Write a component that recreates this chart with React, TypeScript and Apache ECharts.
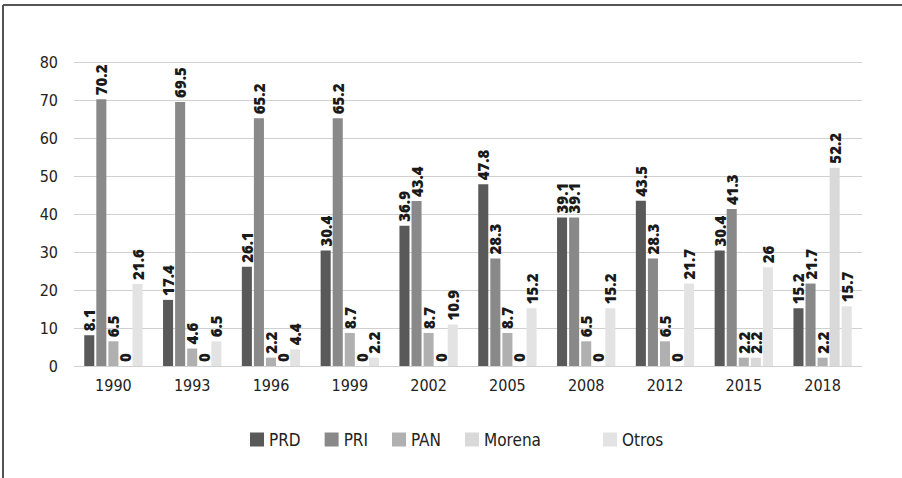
import React, { useEffect, useRef } from "react";
import * as echarts from "echarts";

const years = ["1990", "1993", "1996", "1999", "2002", "2005", "2008", "2012", "2015", "2018"];
const prd = [8.1, 17.4, 26.1, 30.4, 36.9, 47.8, 39.1, 43.5, 30.4, 15.2];
const pri = [70.2, 69.5, 65.2, 65.2, 43.4, 28.3, 39.1, 28.3, 41.3, 21.7];
const pan = [6.5, 4.6, 2.2, 8.7, 8.7, 8.7, 6.5, 6.5, 2.2, 2.2];
const morena = [0, 0, 0, 0, 0, 0, 0, 0, 2.2, 52.2];
const otros = [21.6, 6.5, 4.4, 2.2, 10.9, 15.2, 15.2, 21.7, 26, 15.7];
const seriesNames = ["PRD", "PRI", "PAN", "Morena", "Otros"];
const seriesData = [prd, pri, pan, morena, otros];
const seriesColors = ["#595959", "#898989", "#b0b0b0", "#d9d9d9", "#e3e3e3"];

const narrow = "'DejaVu Sans Condensed', 'Open Sans', sans-serif";

export default function App() {
  const ref = useRef<HTMLDivElement>(null);
  useEffect(() => {
    if (!ref.current) return;
    const chart = echarts.init(ref.current, undefined, { renderer: "svg" });
    chart.setOption({
      animation: false,
      backgroundColor: "#ffffff",
      grid: { left: 74, right: 40, top: 62, bottom: 112 },
      legend: [
        {
          data: seriesNames.slice(0, 4),
          left: 245,
          top: 426,
          itemWidth: 14,
          itemHeight: 14,
          itemGap: 24,
          icon: "rect",
          textStyle: { fontFamily: narrow, fontSize: 17, color: "#222" },
        },
        {
          data: ["Otros"],
          left: 598,
          top: 426,
          itemWidth: 14,
          itemHeight: 14,
          icon: "rect",
          textStyle: { fontFamily: narrow, fontSize: 17, color: "#222" },
        },
      ],
      xAxis: {
        type: "category",
        data: years,
        axisLine: { lineStyle: { color: "#d0d0d0", width: 1 } },
        axisTick: { show: false },
        axisLabel: { fontFamily: narrow, fontSize: 16, color: "#222", margin: 11 },
      },
      yAxis: {
        type: "value",
        min: 0,
        max: 80,
        interval: 10,
        axisLine: { show: false },
        axisTick: { show: false },
        splitLine: { lineStyle: { color: "#d0d0d0", width: 1 } },
        axisLabel: { fontFamily: narrow, fontSize: 16, color: "#222", margin: 16 },
      },
      series: seriesNames.map((name, i) => ({
        name,
        type: "bar",
        data: seriesData[i],
        barCategoryGap: "26%",
        barGap: "20%",
        itemStyle: { color: seriesColors[i] },
        label: {
          show: true,
          position: "top",
          rotate: 90,
          align: "left",
          verticalAlign: "middle",
          distance: 4,
          fontFamily: "'Open Sans', sans-serif",
          fontWeight: 800,
          fontSize: 15,
          color: "#1a1a1a",
        },
      })),
      graphic: [
        { type: "line", shape: { x1: 3, y1: 5, x2: 902, y2: 5 }, style: { stroke: "#555555", lineWidth: 2 } },
        { type: "line", shape: { x1: 3, y1: 5, x2: 3, y2: 478 }, style: { stroke: "#555555", lineWidth: 2 } },
      ],
    });
    return () => chart.dispose();
  }, []);
  return <div ref={ref} style={{ position: "absolute", left: 0, top: 0, width: 902, height: 478 }} />;
}
